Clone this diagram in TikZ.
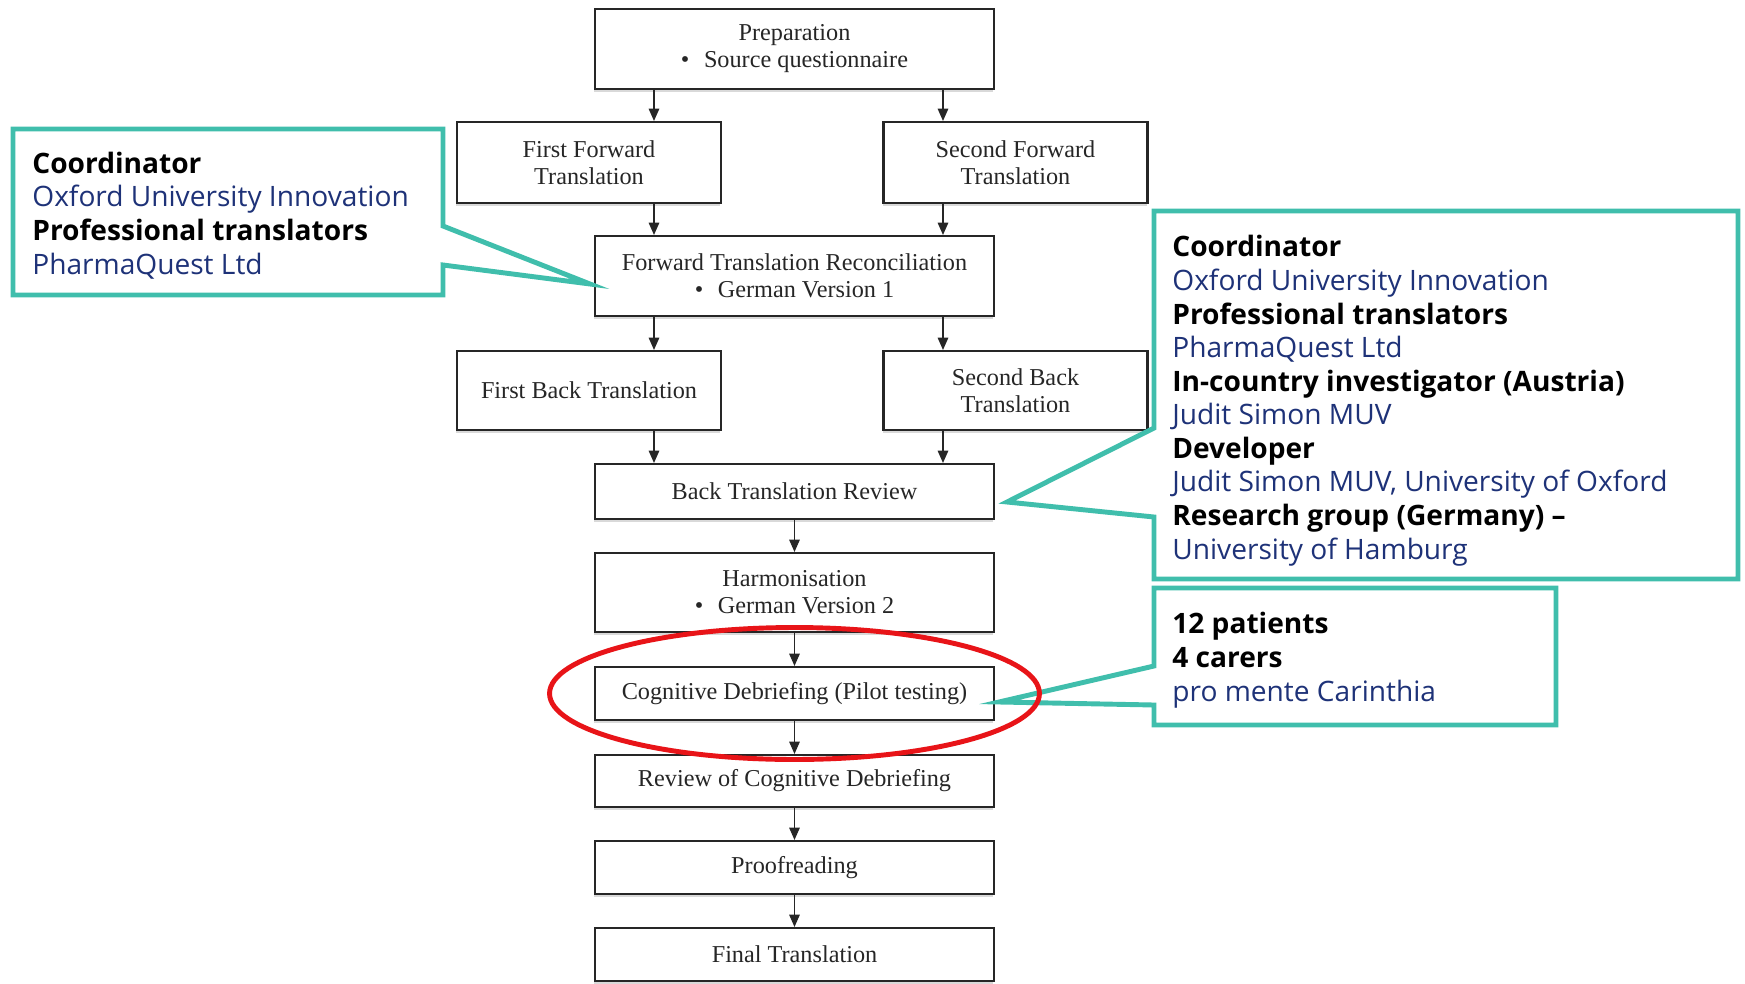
\documentclass[tikz,border=0pt]{standalone}
\usepackage{fontspec}
\setmainfont{Liberation Serif}
\newfontfamily\calfont{Open Sans}
\usetikzlibrary{arrows.meta,shadows}
\definecolor{calteal}{RGB}{64,190,172}
\definecolor{calnavy}{RGB}{30,50,120}
\definecolor{ringred}{RGB}{232,20,24}
\newcommand\calrole[1]{\textbf{#1}}
\newcommand\calorg[1]{\textcolor{calnavy}{#1}}

\begin{document}
\begin{tikzpicture}[x=0.02cm,y=-0.02cm,
  stage/.style={draw=black!85,line width=1.2pt,fill=white,align=center,
    font=\fontsize{13.8}{15.4}\selectfont,text=black!85,
    drop shadow={shadow xshift=-0.4pt,shadow yshift=-1.8pt,opacity=0.3}},
  wide/.style={stage,minimum width=7.98cm},
  half/.style={stage,minimum width=5.28cm},
  flow/.style={-{Triangle[width=6pt,length=7pt]},line width=0.7pt,black!85},
  callout/.style={draw=calteal,line width=2.8pt,fill=white,line join=miter},
  caltext/.style={anchor=base west,align=left,inner sep=0pt,
    font=\calfont\fontsize{16}{19.1}\selectfont},
  ring/.style={draw=ringred,line width=2.8pt}]
\useasboundingbox (0,0) rectangle (1745,984);
\node[wide,minimum height=1.6cm] (prep) at (794.5,49) {Preparation\\\textbullet\hspace{0.6em}Source questionnaire};
\node[half,minimum height=1.62cm] (ffw1) at (589,162.5) {First Forward\\Translation};
\node[half,minimum height=1.62cm] (ffw2) at (1015.5,162.5) {Second Forward\\Translation};
\node[wide,minimum height=1.6cm] (ftr) at (794.5,276) {Forward Translation Reconciliation\\\textbullet\hspace{0.6em}German Version 1};
\node[half,minimum height=1.58cm] (bck1) at (589,390.5) {First Back Translation};
\node[half,minimum height=1.58cm] (bck2) at (1015.5,390.5) {Second Back\\Translation};
\node[wide,minimum height=1.1cm] (btr) at (794.5,491.5) {Back Translation Review};
\node[wide,minimum height=1.58cm] (harm) at (794.5,592.5) {Harmonisation\\\textbullet\hspace{0.6em}German Version 2};
\node[wide,minimum height=1.06cm] (cog) at (794.5,693.5) {Cognitive Debriefing (Pilot testing)};
\node[wide,minimum height=1.04cm] (rev) at (794.5,781) {Review of Cognitive Debriefing};
\node[wide,minimum height=1.06cm] (proof) at (794.5,867.5) {Proofreading};
\node[wide,minimum height=1.06cm] (final) at (794.5,954.5) {Final Translation};

\coordinate (lx) at (654,0);
\coordinate (rx) at (943,0);
\draw[flow] (prep.south -| lx) -- (ffw1.north -| lx);
\draw[flow] (prep.south -| rx) -- (ffw2.north -| rx);
\draw[flow] (ffw1.south -| lx) -- (ftr.north -| lx);
\draw[flow] (ffw2.south -| rx) -- (ftr.north -| rx);
\draw[flow] (ftr.south -| lx) -- (bck1.north -| lx);
\draw[flow] (ftr.south -| rx) -- (bck2.north -| rx);
\draw[flow] (bck1.south -| lx) -- (btr.north -| lx);
\draw[flow] (bck2.south -| rx) -- (btr.north -| rx);
\draw[flow] (btr) -- (harm);
\draw[flow] (harm) -- (cog);
\draw[flow] (cog) -- (rev);
\draw[flow] (rev) -- (proof);
\draw[flow] (proof) -- (final);

\draw[callout] (13,129) -- (443,129) -- (443,226) -- (590,284) -- (443,265) -- (443,295) -- (13,295) -- cycle;
\node[caltext] (team1) at (32,274) {\calrole{Coordinator}\\\calorg{Oxford University Innovation}\\\calrole{Professional translators}\\\calorg{PharmaQuest Ltd}};
\draw[callout] (1154,211) -- (1738,211) -- (1738,579) -- (1154,579) -- (1154,517) -- (1007,502) -- (1154,428) -- cycle;
\node[caltext] (team2) at (1172,559) {\calrole{Coordinator}\\\calorg{Oxford University Innovation}\\\calrole{Professional translators}\\\calorg{PharmaQuest Ltd}\\\calrole{In-country investigator (Austria)}\\\calorg{Judit Simon MUV}\\\calrole{Developer}\\\calorg{Judit Simon MUV, University of Oxford}\\\calrole{Research group (Germany) –}\\\calorg{University of Hamburg}};
\draw[callout] (1154,588) -- (1556,588) -- (1556,725) -- (1154,725) -- (1154,705) -- (999,702) -- (1154,666) -- cycle;
\node[caltext] (pilot) at (1172,701) {\calrole{12 patients}\\\calrole{4 carers}\\\calorg{pro mente Carinthia}};

\draw[ring] (cog) ellipse [x radius=4.9cm,y radius=1.32cm];
\end{tikzpicture}
\end{document}
